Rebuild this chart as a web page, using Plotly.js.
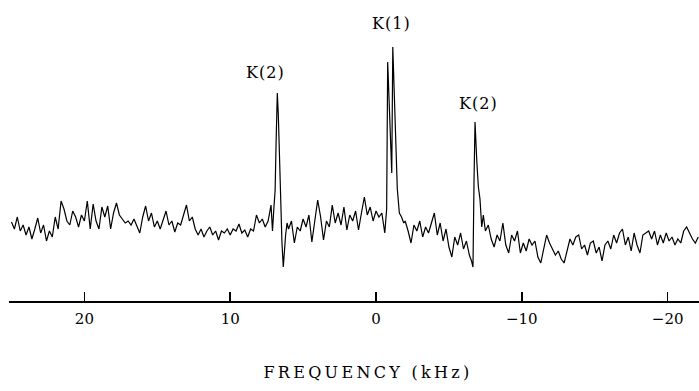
<!DOCTYPE html>
<html>
<head>
<meta charset="utf-8">
<script src="https://cdn.plot.ly/plotly-3.0.1.min.js"></script>
<style>
html,body{margin:0;padding:0;background:#fff;}
#chart{width:699px;height:391px;}
.xtitle{letter-spacing:3.3px;transform:translate(14px,0px);}
.annotation-text{letter-spacing:1px;}
</style>
</head>
<body>
<div id="chart"></div>
<script>
// Frequency axis (kHz) of the sampled spectrum points
const freqKHz = [
 25.0,24.8,24.6,24.4,24.2,24.0,23.8,23.6,23.4,23.2,23.0,22.8,22.6,22.4,22.2,
 22.0,21.8,21.6,21.4,21.2,21.0,20.8,20.6,20.4,20.2,20.0,19.8,19.6,19.4,19.2,19.0,18.8,18.6,18.4,18.2,18.0,17.8,17.6,
 17.4,17.2,17.0,16.8,16.6,16.4,16.2,16.0,15.8,15.6,15.4,15.2,15.0,14.8,14.6,14.4,14.2,14.0,13.8,13.6,13.4,
 13.2,13.0,12.8,12.6,12.4,12.2,12.0,11.8,11.6,11.4,11.2,11.0,10.8,10.6,10.4,10.2,10.0,9.8,9.6,9.4,9.2,9.0,8.8,8.6,8.4,
 8.2,8.0,7.8,7.6,7.4,7.2,7.1,7.0,6.92,6.85,6.77,6.70,6.63,6.54,6.45,6.36,6.28,6.2,6.1,
 6.0,5.8,5.6,5.4,5.2,5.0,4.8,4.6,4.4,4.2,4.0,3.8,3.6,3.4,3.2,3.0,2.8,2.6,2.4,2.2,2.0,1.8,1.6,1.4,1.2,1.0,0.8,0.6,0.4,0.2,0.0,-0.2,-0.4,-0.6,
 -0.73,-0.80,-0.89,-0.99,-1.08,-1.15,-1.26,-1.37,-1.46,-1.60,-1.75,-1.9,
 -2.0,-2.2,-2.4,-2.6,-2.8,-3.0,-3.2,-3.4,-3.6,-3.8,-4.0,-4.2,-4.4,-4.6,-4.8,-5.0,-5.2,-5.4,-5.6,-5.8,-6.0,-6.2,-6.4,-6.55,-6.65,
 -6.72,-6.79,-6.91,-7.02,-7.13,-7.25,-7.36,
 -7.5,-7.7,-7.9,-8.1,-8.3,-8.5,-8.7,-8.9,-9.1,-9.3,-9.5,-9.7,-9.9,
 -10.1,-10.3,-10.5,-10.7,-10.9,-11.1,-11.3,-11.5,-11.7,-11.9,-12.1,-12.3,-12.5,-12.7,-12.9,-13.1,-13.3,-13.5,-13.7,-13.9,
 -14.1,-14.3,-14.5,-14.7,-14.9,-15.1,-15.3,-15.5,-15.7,-15.9,-16.1,-16.3,-16.5,-16.7,-16.9,-17.1,-17.3,-17.5,-17.7,-17.9,
 -18.1,-18.3,-18.5,-18.7,-18.9,-19.1,-19.3,-19.5,-19.7,-19.9,-20.1,-20.3,-20.5,-20.7,-20.9,-21.1,-21.3,-21.5,-21.7,-21.9,-22.1
];
// Signal intensity (arbitrary units)
const intensity = [
 79,72,84,70,76,66,74,62,72,83,68,76,60,70,64,
 84,72,100,92,80,76,90,84,74,86,80,100,72,97,80,72,94,84,95,72,88,98,86,
 82,78,80,76,82,74,68,84,95,80,88,74,80,72,82,90,76,80,69,78,76,
 86,96,80,84,72,66,72,64,70,74,66,70,61,70,68,72,66,72,70,77,68,71,64,72,70,
 86,78,82,74,80,96,70,94,110,160,208,186,150,100,58,34,52,66,78,
 72,80,58,74,70,82,74,86,59,80,101,84,61,80,74,96,78,88,76,94,71,86,80,90,71,88,104,86,94,80,90,84,88,68,
 92,239,200,150,128,254,200,150,112,88,84,78,
 80,70,58,76,70,80,64,74,68,78,88,66,78,60,72,54,44,64,56,68,52,60,46,40,34,
 120,179,140,114,102,74,86,
 70,76,62,54,66,60,78,56,48,66,60,70,48,
 58,50,62,56,60,44,38,54,66,58,52,46,50,42,38,50,62,56,64,66,
 52,56,46,58,60,48,54,40,56,60,52,66,58,68,72,56,64,50,68,56,
 48,66,68,70,62,70,56,66,58,68,60,64,56,62,58,70,74,68,62,58,64
];
// Tick labels
const tickVals = [20, 10, 0, -10, -20];
const tickText = ['20', '10', '0', '\u221210', '\u221220'];
// Peak labels
const peakLabels = ['K(2)', 'K(1)', 'K(2)'];
const peakLabelFreq = [7.6, -1.03, -7.0];
const peakLabelHeight = [229, 278, 198];

const serif = 'DejaVu Serif, Liberation Serif, serif';

const trace = {
  x: freqKHz,
  y: intensity,
  type: 'scatter',
  mode: 'lines',
  line: {color: '#000', width: 1.2},
  hoverinfo: 'skip'
};

const annotations = peakLabels.map((t, i) => ({
  x: peakLabelFreq[i], y: peakLabelHeight[i], xref: 'x', yref: 'y',
  text: t, showarrow: false,
  font: {family: serif, size: 16, color: '#000'}
}));

const layout = {
  width: 699, height: 391,
  margin: {l: 9, r: 0, t: 0, b: 90},
  paper_bgcolor: '#fff', plot_bgcolor: '#fff',
  showlegend: false,
  xaxis: {
    range: [25.17, -22.15],
    tickmode: 'array', tickvals: tickVals, ticktext: tickText,
    ticks: 'inside', ticklen: 9, tickwidth: 1.5, tickcolor: '#000',
    showline: true, linecolor: '#000', linewidth: 1.8,
    showgrid: false, zeroline: false,
    tickfont: {family: serif, size: 15, color: '#000'},
    ticklabelstandoff: 3,
    title: {text: 'FREQUENCY (kHz)', font: {family: serif, size: 16, color: '#000'}, standoff: 40},
    automargin: false
  },
  yaxis: {
    range: [0, 301], visible: false, showgrid: false, zeroline: false, fixedrange: true
  },
  annotations: annotations
};

Plotly.newPlot('chart', [trace], layout, {displayModeBar: false, staticPlot: true});
</script>
</body>
</html>
